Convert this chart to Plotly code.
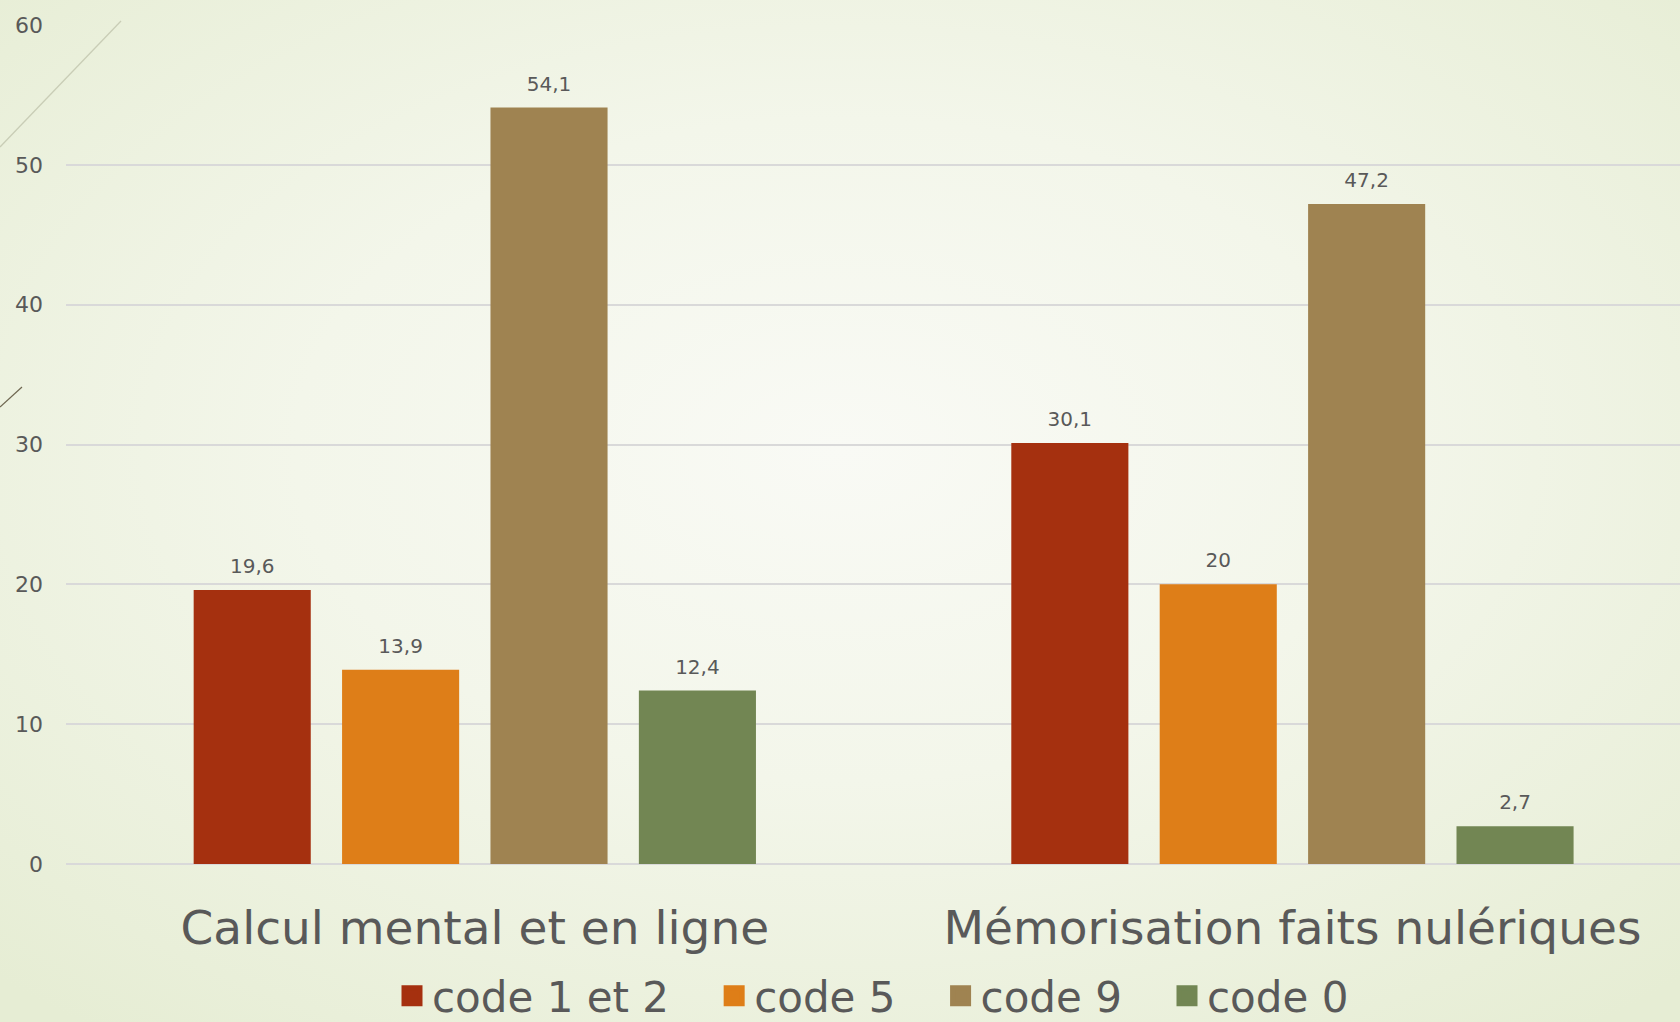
import urllib.parse
import plotly.graph_objects as go

# ---- data ----
categories = ["Calcul mental et en ligne", "Mémorisation faits nulériques"]
series_names = ["code 1 et 2", "code 5", "code 9", "code 0"]
code_1_et_2 = [19.6, 30.1]
code_5 = [13.9, 20]
code_9 = [54.1, 47.2]
code_0 = [12.4, 2.7]
y_ticks = [0, 10, 20, 30, 40, 50, 60]

# ---- style ----
colors = ["#A5300F", "#DE7E18", "#9F8351", "#728653"]
text_color = "#595959"
font_family = "DejaVu Sans"

W, H = 1680, 1022
ML, MR, MT, MB = 66, 0, 25, 158
PW, PH = W - ML - MR, H - MT - MB
BARGAP, BARGROUPGAP = 0.274, 0.211
NBSP = "\u00a0"


def fr(v):
    return f"{v:g}".replace(".", ",")


series_values = [code_1_et_2, code_5, code_9, code_0]

fig = go.Figure()
# bars
for name, vals, col in zip(series_names, series_values, colors):
    fig.add_bar(
        x=categories, y=vals, name=name,
        marker=dict(color=col, line=dict(width=0)),
        showlegend=False, hoverinfo="x+y+name",
    )

# value labels, grouped like the bars
for name, vals, col in zip(series_names, series_values, colors):
    fig.add_scatter(
        x=categories, y=vals, name=name,
        mode="markers+text",
        text=[fr(v) for v in vals],
        textposition="top center",
        textfont=dict(size=20, color=text_color, family=font_family),
        marker=dict(size=17.6, opacity=0, color=col),
        showlegend=False, hoverinfo="skip", cliponaxis=False,
    )

# legend entries (bigger square swatches)
for i, (name, col) in enumerate(zip(series_names, colors)):
    label = name + (NBSP * 3 if i < len(series_names) - 1 else "")
    fig.add_scatter(
        x=[None], y=[None], name=label, mode="markers",
        marker=dict(symbol="square", size=16, color=col, line=dict(color=col, width=5)),
        xaxis="x2", yaxis="y2", hoverinfo="skip", showlegend=True,
    )

# background: soft radial gradient + slide decoration lines
svg = f'''<svg xmlns="http://www.w3.org/2000/svg" width="{W}" height="{H}" viewBox="0 0 {W} {H}" preserveAspectRatio="none">
<defs><radialGradient id="g" cx="0.5" cy="0.44" r="0.72"><stop offset="0" stop-color="#f9faf5"/><stop offset="0.45" stop-color="#f3f6ea"/><stop offset="1" stop-color="#e6edd4"/></radialGradient></defs>
<rect x="0" y="0" width="{W}" height="{H}" fill="url(#g)"/>
<line x1="0" y1="147" x2="121" y2="21" stroke="#c9cdb6" stroke-width="1.3"/>
<line x1="0" y1="407" x2="22" y2="387" stroke="#6e6650" stroke-width="1.2"/>
</svg>'''
bg_src = "data:image/svg+xml;charset=utf-8," + urllib.parse.quote(svg)

fig.update_layout(
    width=W,
    height=H,
    autosize=False,
    margin=dict(l=ML, r=MR, t=MT, b=MB, pad=0, autoexpand=False),
    paper_bgcolor="#eef2e3",
    plot_bgcolor="rgba(0,0,0,0)",
    barmode="group",
    bargap=BARGAP,
    bargroupgap=BARGROUPGAP,
    scattermode="group",
    scattergap=BARGAP,
    font=dict(family=font_family, color=text_color),
    images=[dict(
        source=bg_src, xref="paper", yref="paper",
        x=-ML / PW, y=1 + MT / PH, sizex=W / PW, sizey=H / PH,
        xanchor="left", yanchor="top", sizing="stretch", layer="below",
    )],
    legend=dict(
        orientation="h", x=0.5, xanchor="center",
        y=-(996 - (H - MB)) / PH, yanchor="middle",
        font=dict(size=42, color=text_color, family=font_family),
        bgcolor="rgba(0,0,0,0)",
    ),
    showlegend=True,
    xaxis=dict(
        range=[-0.5, 1.474],
        showgrid=False, showline=False, zeroline=False, ticks="",
        tickfont=dict(size=47, color=text_color, family=font_family),
        ticklabelstandoff=32,
    ),
    yaxis=dict(
        range=[0, 60], tickvals=y_ticks,
        showgrid=True, gridcolor="#d9d9d9", gridwidth=2,
        zeroline=True, zerolinecolor="#d9d9d9", zerolinewidth=2,
        showline=False, ticks="",
        tickfont=dict(size=22, color=text_color, family=font_family),
        ticklabelstandoff=22,
    ),
    xaxis2=dict(visible=False, overlaying="x"),
    yaxis2=dict(visible=False, overlaying="y"),
)

fig.write_html(
    "out.html",
    config={"displayModeBar": False},
    post_script="document.body.style.margin='0';document.body.style.overflow='hidden';",
)
